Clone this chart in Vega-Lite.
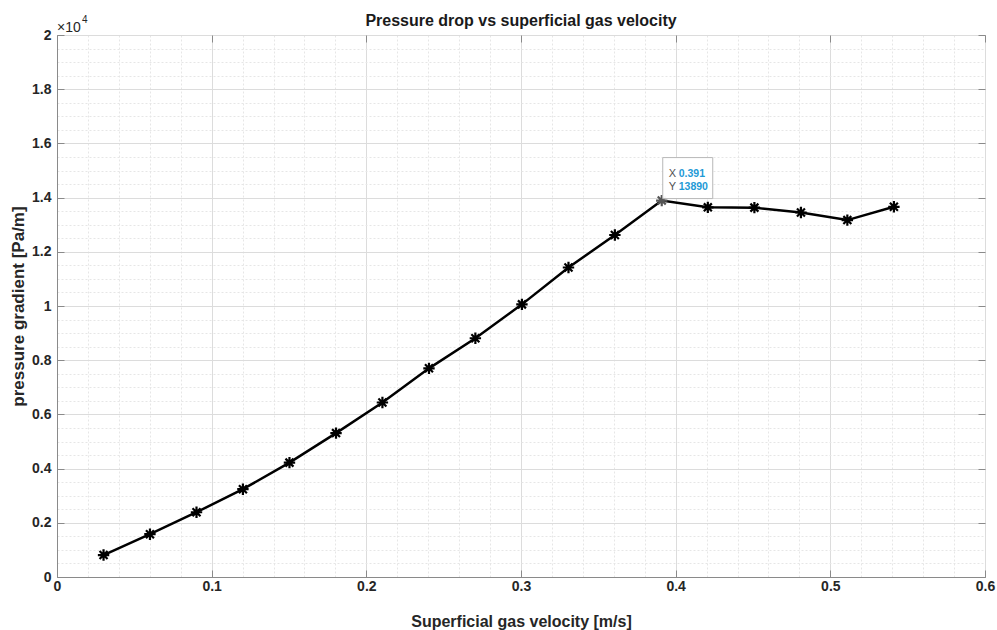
{
  "$schema": "https://vega.github.io/schema/vega-lite/v6.json",
  "width": 928,
  "height": 542,
  "autosize": {"type": "none"},
  "padding": {"left": 57, "top": 35, "right": 12, "bottom": 53},
  "background": "white",
  "config": {
    "view": {"stroke": "#8a8a8a", "strokeWidth": 1},
    "font": "Liberation Sans"
  },
  "title": {
    "text": "Pressure drop vs superficial gas velocity",
    "font": "Liberation Sans",
    "fontSize": 16,
    "fontWeight": "bold",
    "color": "#1a1a1a",
    "anchor": "middle",
    "frame": "group",
    "baseline": "alphabetic",
    "offset": -27
  },
  "datasets": {
    "series": [
      {"v": 0.0301, "p": 810},
      {"v": 0.0601, "p": 1580},
      {"v": 0.0902, "p": 2390},
      {"v": 0.1202, "p": 3240},
      {"v": 0.1503, "p": 4220},
      {"v": 0.1804, "p": 5310},
      {"v": 0.2104, "p": 6440},
      {"v": 0.2405, "p": 7700},
      {"v": 0.2705, "p": 8810},
      {"v": 0.3006, "p": 10060},
      {"v": 0.3307, "p": 11420},
      {"v": 0.3607, "p": 12620},
      {"v": 0.391, "p": 13890},
      {"v": 0.4208, "p": 13640},
      {"v": 0.4509, "p": 13630},
      {"v": 0.481, "p": 13450},
      {"v": 0.511, "p": 13170},
      {"v": 0.5411, "p": 13660}
    ],
    "tip": [{"v": 0.391, "p": 13890}]
  },
  "resolve": {"axis": {"x": "independent", "y": "independent"}},
  "layer": [
    {
      "data": {"name": "series"},
      "mark": {"type": "line", "color": "#000000", "strokeWidth": 2.5},
      "encoding": {
        "x": {
          "field": "v", "type": "quantitative",
          "scale": {"domain": [0, 0.6], "nice": false, "zero": false},
          "axis": {
            "orient": "bottom",
            "values": [0,0.02,0.04,0.06,0.08,0.1,0.12,0.14,0.16,0.18,0.2,0.22,0.24,0.26,0.28,0.3,0.32,0.34,0.36,0.38,0.4,0.42,0.44,0.46,0.48,0.5,0.52,0.54,0.56,0.58,0.6],
            "labelExpr": "abs(datum.value*10-round(datum.value*10))<1e-6 ? format(datum.value,'~g') : ''",
            "grid": true,
            "gridColor": {"condition": {"test": "abs(datum.value*10-round(datum.value*10))<1e-6", "value": "#dcdcdc"}, "value": "#e6e6e6"},
            "gridDash": {"condition": {"test": "abs(datum.value*10-round(datum.value*10))<1e-6", "value": []}, "value": [2, 2]},
            "tickOpacity": {"condition": {"test": "abs(datum.value*10-round(datum.value*10))<1e-6", "value": 1}, "value": 0},
            "tickSize": -7,
            "tickColor": "#8a8a8a",
            "domainColor": "#8a8a8a",
            "labelFont": "Liberation Sans",
            "labelFontSize": 14,
            "labelFontWeight": "bold",
            "labelColor": "#262626",
            "labelPadding": 9,
            "labelFlush": false,
            "labelOverlap": false,
            "title": "Superficial gas velocity [m/s]",
            "titleFont": "Liberation Sans",
            "titleFontSize": 16,
            "titleFontWeight": "bold",
            "titleColor": "#262626",
            "titlePadding": 20
          }
        },
        "y": {
          "field": "p", "type": "quantitative",
          "scale": {"domain": [0, 20000], "nice": false, "zero": false},
          "axis": {
            "orient": "left",
            "values": [0,500,1000,1500,2000,2500,3000,3500,4000,4500,5000,5500,6000,6500,7000,7500,8000,8500,9000,9500,10000,10500,11000,11500,12000,12500,13000,13500,14000,14500,15000,15500,16000,16500,17000,17500,18000,18500,19000,19500,20000],
            "labelExpr": "datum.value % 2000 == 0 ? format(datum.value/10000,'~g') : ''",
            "grid": true,
            "gridColor": {"condition": {"test": "datum.value % 2000 == 0", "value": "#dcdcdc"}, "value": "#e6e6e6"},
            "gridDash": {"condition": {"test": "datum.value % 2000 == 0", "value": []}, "value": [2, 2]},
            "tickOpacity": {"condition": {"test": "datum.value % 2000 == 0", "value": 1}, "value": 0},
            "tickSize": -7,
            "tickColor": "#8a8a8a",
            "domainColor": "#8a8a8a",
            "labelFont": "Liberation Sans",
            "labelFontSize": 14,
            "labelFontWeight": "bold",
            "labelColor": "#262626",
            "labelPadding": 13,
            "labelFlush": false,
            "labelOverlap": false,
            "title": "pressure gradient [Pa/m]",
            "titleFont": "Liberation Sans",
            "titleFontSize": 17,
            "titleFontWeight": "bold",
            "titleColor": "#262626",
            "titlePadding": 4
          }
        }
      }
    },
    {
      "data": {"name": "series"},
      "mark": {
        "type": "point",
        "shape": "M-1,0H1M0,-1V1M-0.7,-0.7L0.7,0.7M-0.7,0.7L0.7,-0.7",
        "size": 130,
        "filled": false,
        "strokeWidth": 2.2,
        "opacity": 1
      },
      "encoding": {
        "x": {
          "field": "v", "type": "quantitative",
          "axis": {
            "orient": "top",
            "values": [0, 0.1, 0.2, 0.3, 0.4, 0.5, 0.6],
            "labels": false, "grid": false, "domain": false,
            "ticks": true, "tickSize": -7, "tickColor": "#8a8a8a",
            "title": null
          }
        },
        "y": {
          "field": "p", "type": "quantitative",
          "axis": {
            "orient": "right",
            "values": [0,2000,4000,6000,8000,10000,12000,14000,16000,18000,20000],
            "labels": false, "grid": false, "domain": false,
            "ticks": true, "tickSize": -7, "tickColor": "#8a8a8a",
            "title": null
          }
        },
        "stroke": {
          "condition": {"test": "datum.v == 0.391", "value": "#555555"},
          "value": "#000000"
        }
      }
    },
    {
      "data": {"values": [{}]},
      "mark": {"type": "text", "text": "×10", "align": "left", "baseline": "alphabetic", "dx": 0, "dy": -3, "fontSize": 14, "font": "Liberation Sans", "color": "#262626"},
      "encoding": {
        "x": {"datum": 0, "type": "quantitative", "axis": null},
        "y": {"datum": 20000, "type": "quantitative", "axis": null}
      }
    },
    {
      "data": {"values": [{}]},
      "mark": {"type": "text", "text": "4", "align": "left", "baseline": "alphabetic", "dx": 25, "dy": -12, "fontSize": 10, "font": "Liberation Sans", "color": "#262626"},
      "encoding": {
        "x": {"datum": 0, "type": "quantitative", "axis": null},
        "y": {"datum": 20000, "type": "quantitative", "axis": null}
      }
    },
    {
      "data": {"name": "tip"},
      "mark": {
        "type": "point",
        "shape": "M1,-2H51V-43H1Z",
        "size": 4,
        "filled": true,
        "fill": "#ffffff",
        "fillOpacity": 0.95,
        "stroke": "#b8b8b8",
        "strokeWidth": 1,
        "opacity": 1
      },
      "encoding": {
        "x": {"field": "v", "type": "quantitative", "axis": null},
        "y": {"field": "p", "type": "quantitative", "axis": null}
      }
    },
    {
      "data": {"name": "tip"},
      "mark": {"type": "text", "text": "X", "align": "left", "baseline": "alphabetic", "dx": 7, "dy": -24, "fontSize": 11, "font": "Liberation Sans", "color": "#505050"},
      "encoding": {
        "x": {"field": "v", "type": "quantitative", "axis": null},
        "y": {"field": "p", "type": "quantitative", "axis": null}
      }
    },
    {
      "data": {"name": "tip"},
      "mark": {"type": "text", "text": "Y", "align": "left", "baseline": "alphabetic", "dx": 7, "dy": -11, "fontSize": 11, "font": "Liberation Sans", "color": "#505050"},
      "encoding": {
        "x": {"field": "v", "type": "quantitative", "axis": null},
        "y": {"field": "p", "type": "quantitative", "axis": null}
      }
    },
    {
      "data": {"name": "tip"},
      "mark": {"type": "text", "align": "left", "baseline": "alphabetic", "dx": 17, "dy": -24, "fontSize": 10.5, "fontWeight": "bold", "font": "Liberation Sans", "color": "#1e9ad6"},
      "encoding": {
        "x": {"field": "v", "type": "quantitative", "axis": null},
        "y": {"field": "p", "type": "quantitative", "axis": null},
        "text": {"field": "v", "type": "quantitative", "format": ".3f"}
      }
    },
    {
      "data": {"name": "tip"},
      "mark": {"type": "text", "align": "left", "baseline": "alphabetic", "dx": 17, "dy": -11, "fontSize": 10.5, "fontWeight": "bold", "font": "Liberation Sans", "color": "#1e9ad6"},
      "encoding": {
        "x": {"field": "v", "type": "quantitative", "axis": null},
        "y": {"field": "p", "type": "quantitative", "axis": null},
        "text": {"field": "p", "type": "quantitative", "format": "d"}
      }
    }
  ]
}
